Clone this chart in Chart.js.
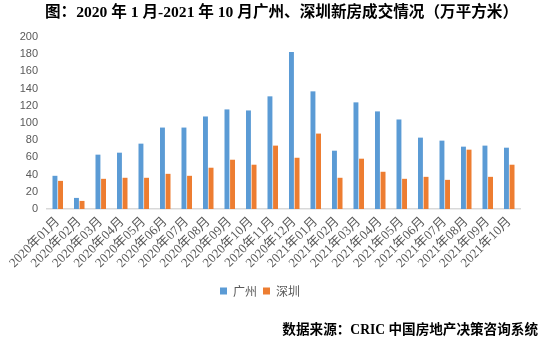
<!DOCTYPE html>
<html>
<head>
<meta charset="utf-8">
<script src="https://cdn.jsdelivr.net/npm/chart.js@4/dist/chart.umd.min.js"></script>
<style>
html,body{margin:0;padding:0;background:#fff;}
#wrap{position:relative;width:550px;height:343px;}
#title{position:absolute;left:45px;top:2px;font:bold 15.6px "Liberation Serif","Noto Sans CJK SC",serif;color:#000;white-space:nowrap;line-height:20px;}
#footer{position:absolute;right:12px;top:318px;font:bold 13.6px "Liberation Serif","Noto Sans CJK SC",serif;color:#000;white-space:nowrap;}
</style>
</head>
<body>
<div id="wrap">
<canvas id="c" width="550" height="343"></canvas>
<div id="title"></div>
<div id="footer">数据来源：CRIC 中国房地产决策咨询系统</div>
</div>
<script>
const categories = ["2020年01月","2020年02月","2020年03月","2020年04月","2020年05月","2020年06月","2020年07月","2020年08月","2020年09月","2020年10月","2020年11月","2020年12月","2021年01月","2021年02月","2021年03月","2021年04月","2021年05月","2021年06月","2021年07月","2021年08月","2021年09月","2021年10月"];
const guangzhou = [38.6,12.9,63.2,65.5,76,94.7,94.7,107.6,115.8,114.6,131,182.5,136.8,67.8,124,113.5,104.1,83,79.5,72.5,73.7,71.3];
const shenzhen = [32.7,9.4,35.1,36.3,36.3,40.9,38.6,48,57.3,51.5,73.7,59.6,87.7,36.3,58.5,43.3,35.1,37.4,33.9,69,37.4,51.5];
const seriesNames = ["广州","深圳"];
const titleText = "图：2020 年 1 月-2021 年 10 月广州、深圳新房成交情况（万平方米）";
document.getElementById('title').textContent = titleText;

new Chart(document.getElementById('c'), {
  type: 'bar',
  data: {
    labels: categories,
    datasets: [
      {label: seriesNames[0], data: guangzhou, backgroundColor: '#5B9BD5', categoryPercentage: 0.52, barPercentage: 0.88},
      {label: seriesNames[1], data: shenzhen, backgroundColor: '#ED7D31', categoryPercentage: 0.52, barPercentage: 0.88}
    ]
  },
  options: {
    responsive: false,
    animation: false,
    layout: {padding: {left: 0, right: 30, top: 37, bottom: 36}},
    plugins: {
      title: {display: false},
      legend: {
        position: 'bottom',
        labels: {
          boxWidth: 7, boxHeight: 7, padding: 6,
          color: '#595959',
          font: {family: '"Noto Sans CJK SC",sans-serif', size: 12}
        }
      },
      tooltip: {enabled: false}
    },
    scales: {
      x: {
        grid: {display: false, drawTicks: false},
        border: {display: true, color: '#D9D9D9', width: 1.5},
        ticks: {
          maxRotation: 45, minRotation: 45, autoSkip: false, padding: 5,
          color: '#595959',
          font: {family: '"Liberation Serif","Noto Sans CJK SC",serif', size: 13}
        },
        afterFit: s => { s.height += 3; }
      },
      y: {
        min: 0, max: 200,
        grid: {display: false, drawTicks: false},
        border: {display: false},
        ticks: {
          stepSize: 20, padding: 9,
          color: '#595959',
          font: {family: '"Liberation Sans",sans-serif', size: 11}
        },
        afterFit: s => { s.width = 47; }
      }
    }
  }
});
</script>
</body>
</html>
